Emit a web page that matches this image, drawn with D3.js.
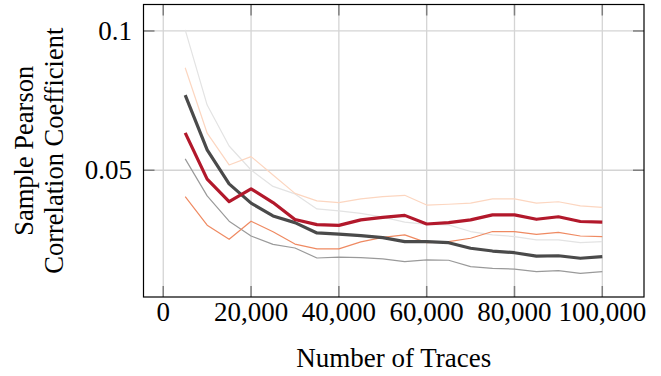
<!DOCTYPE html>
<meta charset="utf-8">
<style>
    body { margin: 0; background: #fff; }
    svg text { font-family: "Liberation Serif", "DejaVu Serif", serif; fill: #000; }
    .grid line { stroke: #d4d4d4; stroke-width: 1.3; }
    .tick-mark { stroke: #7f7f7f; stroke-width: 1.5; }
</style>

<div class="chart"></div>

<script src="https://cdn.jsdelivr.net/npm/d3@7"></script>

<script>
    // data
    var traces = [5000,10000,15000,20000,25000,30000,35000,40000,45000,50000,
                  55000,60000,65000,70000,75000,80000,85000,90000,95000,100000];

    var grayUpper = [0.1004,0.0734,0.0587,0.0501,0.0442,0.0415,0.0361,0.0354,0.0345,0.0332,
                     0.0314,0.0306,0.0304,0.0280,0.0268,0.0262,0.0250,0.0250,0.0240,0.0244];
    var grayMean  = [0.0770,0.0573,0.0451,0.0382,0.0336,0.0312,0.0275,0.0271,0.0265,0.0258,
                     0.0244,0.0244,0.0240,0.0220,0.0210,0.0204,0.0192,0.0193,0.0184,0.0190];
    var grayLower = [0.0541,0.0408,0.0317,0.0264,0.0234,0.0221,0.0185,0.0188,0.0186,0.0182,
                     0.0172,0.0178,0.0177,0.0154,0.0148,0.0145,0.0136,0.0140,0.0130,0.0136];
    var redUpper  = [0.0868,0.0633,0.0519,0.0549,0.0483,0.0417,0.0390,0.0384,0.0397,0.0405,
                     0.0410,0.0375,0.0378,0.0382,0.0397,0.0397,0.0382,0.0387,0.0372,0.0367];
    var redMean   = [0.0634,0.0468,0.0387,0.0433,0.0384,0.0323,0.0305,0.0302,0.0322,0.0331,
                     0.0338,0.0307,0.0312,0.0322,0.0340,0.0340,0.0324,0.0333,0.0316,0.0314];
    var redLower  = [0.0405,0.0303,0.0252,0.0317,0.0279,0.0235,0.0218,0.0218,0.0243,0.0259,
                     0.0268,0.0240,0.0244,0.0256,0.0280,0.0280,0.0270,0.0277,0.0264,0.0262];

    var xTicks = [0,20000,40000,60000,80000,100000];
    var yTicks = [0.05,0.1];

    var series = [
        {values: grayUpper, color: '#e3e3e3', width: 1.2},
        {values: redUpper,  color: '#fcd6c0', width: 1.2},
        {values: grayLower, color: '#9a9a9a', width: 1.2},
        {values: redLower,  color: '#ef8a62', width: 1.2},
        {values: grayMean,  color: '#4a4a4a', width: 3.2},
        {values: redMean,   color: '#b2182b', width: 3.2}
    ];

    var width = 661, height = 376;
    var box = {left: 143.5, right: 644, top: 4.5, bottom: 297};

    var x = d3.scaleLinear().domain([-4500, 109500]).range([box.left, box.right]);
    var y = d3.scaleLinear().domain([0.0045, 0.1095]).range([box.bottom, box.top]);

    var svg = d3.select('.chart')
        .append('svg')
        .attr('width', width)
        .attr('height', height);

    // grid
    var grid = svg.append('g').attr('class', 'grid');
    grid.selectAll('.gx').data(xTicks).enter().append('line')
        .attr('x1', function(d){ return x(d); })
        .attr('x2', function(d){ return x(d); })
        .attr('y1', box.top).attr('y2', box.bottom);
    grid.selectAll('.gy').data(yTicks).enter().append('line')
        .attr('y1', function(d){ return y(d); })
        .attr('y2', function(d){ return y(d); })
        .attr('x1', box.left).attr('x2', box.right);

    // tick marks, inward on all four sides
    var tickLen = 11;
    var ticks = svg.append('g');
    xTicks.forEach(function(d){
        ticks.append('line').attr('class', 'tick-mark')
            .attr('x1', x(d)).attr('x2', x(d)).attr('y1', box.bottom).attr('y2', box.bottom - tickLen);
        ticks.append('line').attr('class', 'tick-mark')
            .attr('x1', x(d)).attr('x2', x(d)).attr('y1', box.top).attr('y2', box.top + tickLen);
    });
    yTicks.forEach(function(d){
        ticks.append('line').attr('class', 'tick-mark')
            .attr('y1', y(d)).attr('y2', y(d)).attr('x1', box.left).attr('x2', box.left + tickLen);
        ticks.append('line').attr('class', 'tick-mark')
            .attr('y1', y(d)).attr('y2', y(d)).attr('x1', box.right).attr('x2', box.right - tickLen);
    });

    // lines
    var line = d3.line()
        .x(function(d, i){ return x(traces[i]); })
        .y(function(d){ return y(d); });

    svg.append('g').selectAll('path')
        .data(series)
        .enter().append('path')
        .attr('d', function(s){ return line(s.values); })
        .attr('fill', 'none')
        .attr('stroke', function(s){ return s.color; })
        .attr('stroke-width', function(s){ return s.width; })
        .attr('stroke-linejoin', 'round');

    // frame
    svg.append('rect')
        .attr('x', box.left).attr('y', box.top)
        .attr('width', box.right - box.left).attr('height', box.bottom - box.top)
        .attr('fill', 'none').attr('stroke', '#000').attr('stroke-width', 1.2);

    // tick labels
    var fmt = d3.format(',');
    svg.append('g').selectAll('text')
        .data(xTicks)
        .enter().append('text')
        .attr('x', function(d){ return x(d); })
        .attr('y', 321)
        .attr('text-anchor', 'middle')
        .attr('font-size', 27)
        .text(function(d){ return fmt(d); });

    svg.append('g').selectAll('text')
        .data(yTicks)
        .enter().append('text')
        .attr('x', 132)
        .attr('y', function(d){ return y(d) + 9; })
        .attr('text-anchor', 'end')
        .attr('font-size', 27)
        .text(function(d){ return d; });

    // axis titles
    svg.append('text')
        .attr('x', (box.left + box.right) / 2)
        .attr('y', 367)
        .attr('text-anchor', 'middle')
        .attr('font-size', 27)
        .text('Number of Traces');

    var ylab = svg.append('text')
        .attr('transform', 'translate(0,' + ((box.top + box.bottom) / 2) + ') rotate(-90)')
        .attr('text-anchor', 'middle')
        .attr('font-size', 26.5);
    ylab.append('tspan').attr('x', 0).attr('y', 33).text('Sample Pearson');
    ylab.append('tspan').attr('x', 0).attr('y', 63).text('Correlation Coefficient');
</script>
